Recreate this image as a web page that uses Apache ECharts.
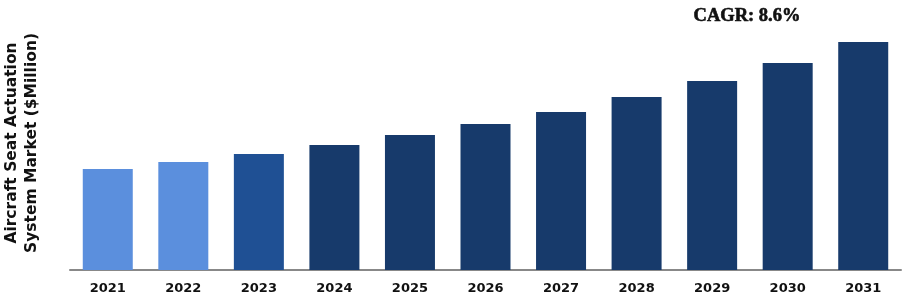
<!DOCTYPE html>
<html><head><meta charset="utf-8">
<script src="https://cdn.jsdelivr.net/npm/echarts@6/dist/echarts.min.js"></script>
<style>html,body{margin:0;padding:0;background:#fff}#c{width:917px;height:300px}</style>
</head><body><div id="c"></div>
<script>
const categories = ['2021','2022','2023','2024','2025','2026','2027','2028','2029','2030','2031'];
const values = [101,108,116,125,135,146,158,173,189,207,228];
const barColors = ['#5B8FDD','#5B8FDD','#1F5094','#173A6B','#173A6B','#173A6B','#173A6B','#173A6B','#173A6B','#173A6B','#173A6B'];
const yAxisTitle = 'Aircraft Seat Actuation\nSystem Market ($Million)';
const cagrText = 'CAGR: 8.6%';

const chart = echarts.init(document.getElementById('c'), null, {renderer:'canvas'});
chart.setOption({
  animation:false,
  grid:{left:70,right:16,top:20,bottom:30},
  xAxis:{type:'category',data:categories,
    axisLine:{lineStyle:{color:'#888',width:2}},
    axisTick:{show:false},
    axisLabel:{color:'#111',fontFamily:'DejaVu Sans',fontWeight:'bold',fontSize:13,margin:12}},
  yAxis:{type:'value',min:0,max:250,show:false},
  series:[{type:'bar',barWidth:50,
    data:values.map((v,i)=>({value:v,itemStyle:{color:barColors[i]}}))}],
  graphic:[
    {type:'text',x:747,y:16,style:{text:cagrText,fill:'#111',font:'bold 18.5px "Liberation Serif"',textAlign:'center',textVerticalAlign:'middle',stroke:'#111',lineWidth:0.6}},
    {type:'text',x:22,y:143,rotation:Math.PI/2,style:{text:yAxisTitle,fill:'#111',font:'bold 15.5px "DejaVu Sans"',textAlign:'center',textVerticalAlign:'middle',lineHeight:20}}
  ]
});
</script></body></html>
